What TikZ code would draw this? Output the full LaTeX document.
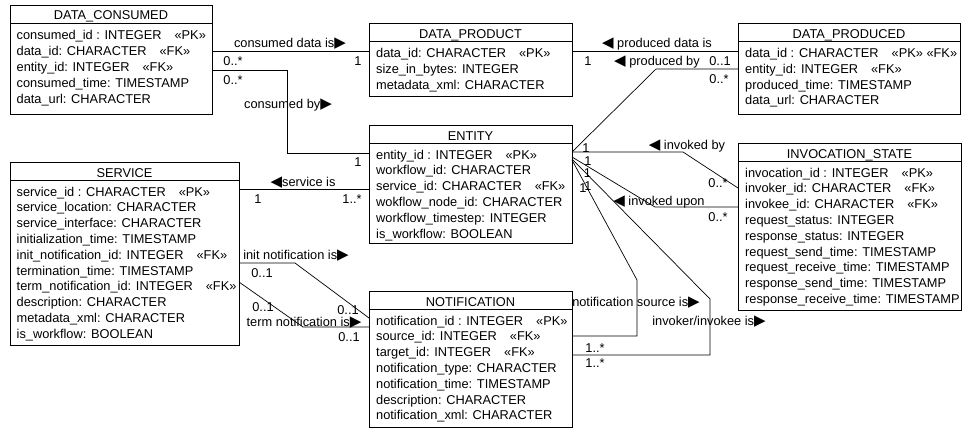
\documentclass[tikz,border=0pt]{standalone}
\usepackage{fontspec}
\setmainfont{Liberation Sans}
\newfontfamily\dvfont{DejaVu Sans}
\usetikzlibrary{calc}
\newcommand\fs{\fontsize{12.8}{15.8}\selectfont}
\newcommand\rtri{{\dvfont\fontsize{15}{15}\selectfont ▶}}
\newcommand\ltri{{\dvfont\fontsize{15}{15}\selectfont ◀}}
\newcommand\gp{\hspace{13pt}}
\begin{document}
\begin{tikzpicture}[x=1pt,y=-1pt,
  umlbox/.style={draw, line width=0.9pt, inner sep=0pt, outer sep=0pt, anchor=north west},
  ttl/.style={font=\fs, anchor=base, inner sep=0pt},
  rowtext/.style={font=\fs, anchor=base west, inner sep=0pt},
  lbl/.style={font=\fs, anchor=base, inner sep=0pt},
  conn/.style={line width=0.7pt},
  hdr/.style={line width=0.9pt}]

\useasboundingbox (0,0) rectangle (963,428);

% DATA_CONSUMED
\node[umlbox, minimum width=202pt, minimum height=109pt] (dc) at (10,5) {};
\draw[hdr] (dc.west |- 0,23) -- (dc.east |- 0,23);
\node[ttl] (dct) at (111,20) {DATA\_CONSUMED};
\foreach \t [count=\i from 0] in {consumed\_id : INTEGER\gp«PK», data\_id: CHARACTER\gp«FK», entity\_id: INTEGER\gp«FK», consumed\_time: TIMESTAMP, data\_url: CHARACTER}
  \node[rowtext] (dc\i) at (16.5, 39.5+\i*16.1) {\t};

% DATA_PRODUCT
\node[umlbox, minimum width=203pt, minimum height=73pt] (dp) at (369,23) {};
\draw[hdr] (dp.west |- 0,41) -- (dp.east |- 0,41);
\node[ttl] (dpt) at (470.5,38) {DATA\_PRODUCT};
\foreach \t [count=\i from 0] in {data\_id: CHARACTER\gp«PK», size\_in\_bytes: INTEGER, metadata\_xml: CHARACTER}
  \node[rowtext] (dp\i) at (376, 57.5+\i*15.8) {\t};

% DATA_PRODUCED
\node[umlbox, minimum width=222pt, minimum height=91pt] (dpd) at (738,23) {};
\draw[hdr] (dpd.west |- 0,41) -- (dpd.east |- 0,41);
\node[ttl] (dpdt) at (849,38) {DATA\_PRODUCED};
\foreach \t [count=\i from 0] in {data\_id : CHARACTER\gp«PK» «FK», entity\_id: INTEGER\gp«FK», produced\_time: TIMESTAMP, data\_url: CHARACTER}
  \node[rowtext] (dpd\i) at (745, 57.5+\i*15.8) {\t};

% ENTITY
\node[umlbox, minimum width=203pt, minimum height=118pt] (en) at (369,125) {};
\draw[hdr] (en.west |- 0,143) -- (en.east |- 0,143);
\node[ttl] (ent) at (470.5,140) {ENTITY};
\foreach \t [count=\i from 0] in {entity\_id : INTEGER\gp«PK», workflow\_id: CHARACTER, service\_id: CHARACTER\gp«FK», wokflow\_node\_id: CHARACTER, workflow\_timestep: INTEGER, is\_workflow: BOOLEAN}
  \node[rowtext] (en\i) at (376, 159+\i*15.8) {\t};

% SERVICE
\node[umlbox, minimum width=229pt, minimum height=183pt] (sv) at (10,162) {};
\draw[hdr] (sv.west |- 0,180) -- (sv.east |- 0,180);
\node[ttl] (svt) at (124.5,177) {SERVICE};
\foreach \t [count=\i from 0] in {service\_id : CHARACTER\gp«PK», service\_location: CHARACTER, service\_interface: CHARACTER, initialization\_time: TIMESTAMP, init\_notification\_id: INTEGER\gp«FK», termination\_time: TIMESTAMP, term\_notification\_id: INTEGER\gp«FK», description: CHARACTER, metadata\_xml: CHARACTER, is\_workflow: BOOLEAN}
  \node[rowtext] (sv\i) at (16.5, 196+\i*15.8) {\t};

% INVOCATION_STATE
\node[umlbox, minimum width=223pt, minimum height=167pt] (is) at (738,143) {};
\draw[hdr] (is.west |- 0,161) -- (is.east |- 0,161);
\node[ttl] (ist) at (849.5,158) {INVOCATION\_STATE};
\foreach \t [count=\i from 0] in {invocation\_id : INTEGER\gp«PK», invoker\_id: CHARACTER\gp«FK», invokee\_id: CHARACTER\gp«FK», request\_status: INTEGER, response\_status: INTEGER, request\_send\_time: TIMESTAMP, request\_receive\_time: TIMESTAMP, response\_send\_time: TIMESTAMP, response\_receive\_time: TIMESTAMP}
  \node[rowtext] (is\i) at (745, 177+\i*15.8) {\t};

% NOTIFICATION
\node[umlbox, minimum width=203pt, minimum height=136pt] (nt) at (369,291) {};
\draw[hdr] (nt.west |- 0,309) -- (nt.east |- 0,309);
\node[ttl] (ntt) at (470.5,306) {NOTIFICATION};
\foreach \t [count=\i from 0] in {notification\_id : INTEGER\gp«PK», source\_id: INTEGER\gp«FK», target\_id: INTEGER\gp«FK», notification\_type: CHARACTER, notification\_time: TIMESTAMP, description: CHARACTER, notification\_xml: CHARACTER}
  \node[rowtext] (nt\i) at (376, 325+\i*15.8) {\t};

% connectors
\draw[conn] (dc.east |- 0,51) -- (dp.west |- 0,51);
\draw[conn] (dc.east |- 0,70) -- (287,70) -- (287,153) -- (en.west |- 0,153);
\draw[conn] (dp.east |- 0,51) -- (dpd.west |- 0,51);
\draw[conn] (en.east |- 0,152) -- (656,69) -- (dpd.west |- 0,69);
\draw[conn] (en.east |- 0,152) -- (683,152) -- (is.west |- 0,188);
\draw[conn] (en.east |- 0,157) -- (655,207) -- (is.west |- 0,207);
\draw[conn] (en.east |- 0,160) -- (637,280) -- (637,336) -- (nt.east |- 0,336);
\draw[conn] (en.east |- 0,159) -- (710,299) -- (710,355) -- (nt.east |- 0,355);
\draw[conn] (sv.east |- 0,189) -- (en.west |- 0,189);
\draw[conn] (sv.east |- 0,263) -- (295,263) -- (nt.west |- 0,318);
\draw[conn] (sv.east |- 0,282) -- (303,327) -- (nt.west |- 0,327);

% labels
\node[lbl] (l1) at (290,48) {consumed data is\rtri};
\node[lbl] (m1a) at (233,65.5) {0..*};
\node[lbl] (m1b) at (358,65.5) {1};
\node[lbl] (m2a) at (233,84) {0..*};
\node[lbl] (l2) at (288,108.5) {consumed by\rtri};
\node[lbl] (m2b) at (358,166.5) {1};
\node[lbl] (l9) at (303,186.5) {\ltri service is};
\node[lbl] (m9a) at (258,203) {1};
\node[lbl] (m9b) at (352,203) {1..*};
\node[lbl] (l3) at (657,48) {\ltri\ produced data is};
\node[lbl] (m3a) at (588,65.5) {1};
\node[lbl] (l4) at (657,65.5) {\ltri\ produced by};
\node[lbl] (m3b) at (720,65.5) {0..1};
\node[lbl] (m4b) at (719,83) {0..*};
\node[lbl] (m4a) at (586,152) {1};
\node[lbl] (l5) at (687,149) {\ltri\ invoked by};
\node[lbl] (m5b) at (718,187) {0..*};
\node[lbl] (l6) at (659,205) {\ltri\ invoked upon};
\node[lbl] (m6b) at (718,221.5) {0..*};
\node[lbl] (m5a) at (588,165.5) {1};
\node[lbl] (m6a) at (587.5,177) {1};
\node[lbl] (m7a) at (583,192) {1};
\node[lbl] (m8a) at (588,190) {1};
\node[lbl] (l7) at (636,306.5) {notification source is\rtri};
\node[lbl] (m7b) at (595,352) {1..*};
\node[lbl] (l8) at (709,325.5) {invoker/invokee is\rtri};
\node[lbl] (m8b) at (595,367) {1..*};
\node[lbl] (l10) at (296,259.5) {init notification is\rtri};
\node[lbl] (m10a) at (262,277.5) {0..1};
\node[lbl] (m10b) at (348,314) {0..1};
\node[lbl] (l11) at (304,326) {term notification is\rtri};
\node[lbl] (m11a) at (263,311.5) {0..1};
\node[lbl] (m11b) at (349,341.5) {0..1};
\end{tikzpicture}
\end{document}
